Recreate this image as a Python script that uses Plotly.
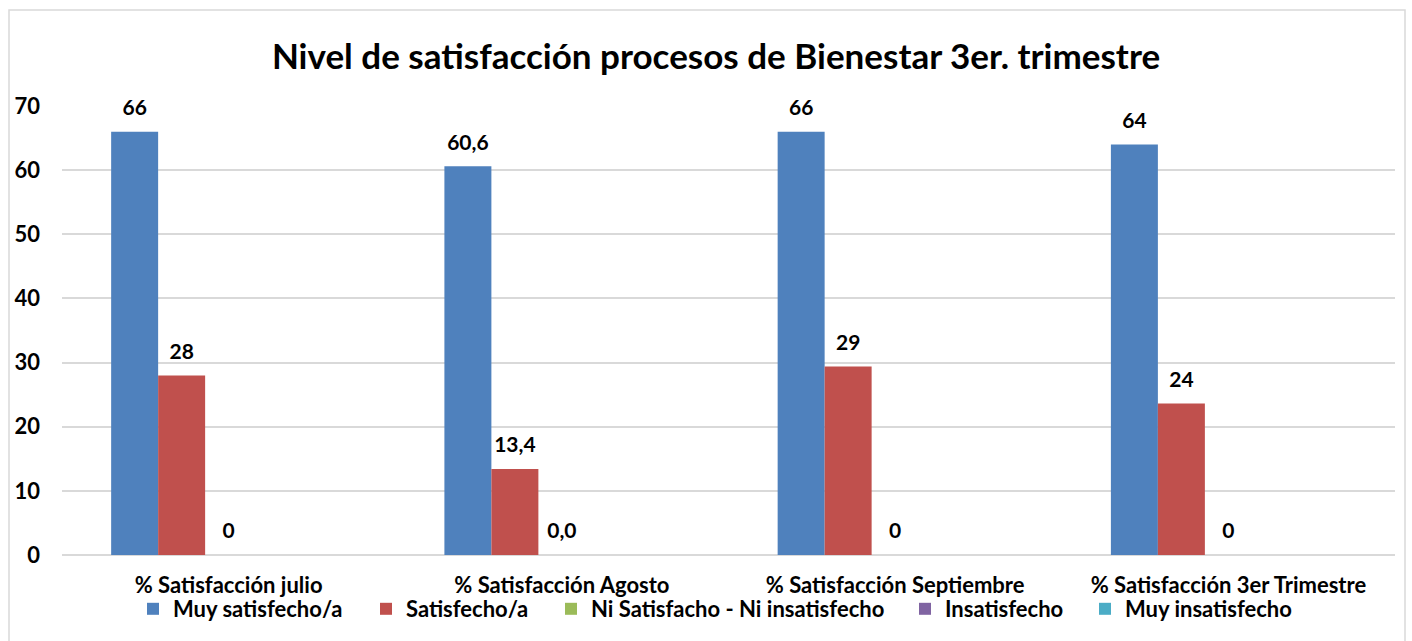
import plotly.graph_objects as go

categories = ["% Satisfacción julio", "% Satisfacción Agosto",
              "% Satisfacción Septiembre", "% Satisfacción 3er Trimestre"]
series_names = ["Muy satisfecho/a", "Satisfecho/a", "Ni Satisfacho - Ni insatisfecho",
                "Insatisfecho", "Muy insatisfecho"]
muy_satisfecho = [66, 60.6, 66, 64]
satisfecho = [28, 13.4, 29.4, 23.6]
ni_ni = [0, 0, 0, 0]
insatisfecho = [0, 0, 0, 0]
muy_insatisfecho = [0, 0, 0, 0]
labels_muy_satisfecho = ["66", "60,6", "66", "64"]
labels_satisfecho = ["28", "13,4", "29", "24"]
labels_ni_ni = ["0", "0,0", "0", "0"]
labels_insatisfecho = ["", "", "", ""]
labels_muy_insatisfecho = ["", "", "", ""]

colors = ["#4F81BD", "#C0504D", "#9BBB59", "#8064A2", "#4BACC6"]
values = [muy_satisfecho, satisfecho, ni_ni, insatisfecho, muy_insatisfecho]
labels = [labels_muy_satisfecho, labels_satisfecho, labels_ni_ni,
          labels_insatisfecho, labels_muy_insatisfecho]
legend_square_px = [150, 383, 568, 922, 1102]

FONT = "Lato"

W, H = 1412, 641
L, R, T, B = 62, 17, 106, 86
pw, ph = W - L - R, H - T - B

fig = go.Figure()
legend_layouts = {}
for i, (name, vals, labs, col, sx) in enumerate(zip(series_names, values, labels, colors, legend_square_px)):
    lg = "legend" if i == 0 else f"legend{i + 1}"
    fig.add_trace(go.Bar(
        x=categories, y=vals, name="<b>" + name + "</b>",
        marker=dict(color=col, line=dict(width=0)),
        text=[("<span style='font-size:21px'><b>" + t + "</b></span><br> ") if t else "" for t in labs],
        texttemplate="%{text}",
        textposition="outside",
        textfont=dict(family=FONT, size=9, color="#000000"),
        cliponaxis=False,
        legend=lg,
    ))
    legend_layouts[lg] = dict(
        orientation="h", x=(sx - 17 - L) / pw, xanchor="left",
        y=-(609 - 555) / ph, yanchor="middle",
        bgcolor="rgba(0,0,0,0)",
        font=dict(family=FONT, size=22, color="#000000"),
        itemwidth=30,
    )

fig.update_layout(
    width=W, height=H,
    barmode="group", bargap=0.295, bargroupgap=0,
    margin=dict(l=L, r=R, t=T, b=B, autoexpand=False),
    paper_bgcolor="white", plot_bgcolor="white",
    font=dict(family=FONT, color="#000000"),
    title=dict(text="<b>Nivel de satisfacción procesos de Bienestar 3er. trimestre</b>",
               x=716 / W, xanchor="center", xref="container",
               y=1 - 57 / H, yanchor="middle", yref="container",
               font=dict(family=FONT, size=35, color="#000000")),
    xaxis=dict(showgrid=False, showline=False, ticks="",
               tickvals=categories, ticktext=["<b>" + c + "</b>" for c in categories],
               tickfont=dict(family=FONT, size=22, color="#000000"),
               ticklabelstandoff=15),
    yaxis=dict(range=[0, 70], dtick=10, showgrid=True, gridcolor="#D9D9D9", gridwidth=1.5,
               zeroline=True, zerolinecolor="#D9D9D9", zerolinewidth=1.5,
               showline=False, ticks="", tickprefix="<b>", ticksuffix="</b>",
               tickfont=dict(family=FONT, size=22, color="#000000"),
               ticklabelstandoff=21),
    showlegend=True,
    **legend_layouts,
)

fig.add_shape(type="rect", xref="paper", yref="paper",
              x0=(9 - L) / pw, x1=(1405 - L) / pw,
              y0=-(660 - 555) / ph, y1=(555 - 10) / ph,
              line=dict(color="#D9D9D9", width=1.5), fillcolor="rgba(0,0,0,0)", layer="below")

fig.write_html("out.html", config={"displayModeBar": False},
               post_script="document.body.style.margin='0';document.body.style.overflow='hidden';")
